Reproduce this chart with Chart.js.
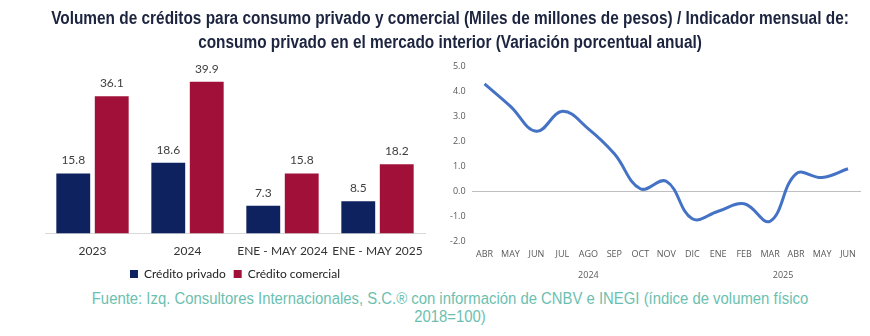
<!DOCTYPE html>
<html>
<head>
<meta charset="utf-8">
<script src="https://cdn.jsdelivr.net/npm/chart.js@4.4.1/dist/chart.umd.min.js"></script>
<style>
  body{margin:0;background:#fff;width:870px;height:336px;position:relative;overflow:hidden}
  .txt{position:absolute;left:-100px;width:1100px;text-align:center;white-space:nowrap;font-family:"Liberation Sans",Arial,sans-serif;transform-origin:550px 0}
  #title{top:6px;font-weight:bold;font-size:18px;line-height:24px;color:#1c2440;transform:scaleX(0.855)}
  #source{top:290px;font-size:16px;line-height:18px;color:#6cbfb0;transform:scaleX(0.93)}
  #bars{position:absolute;left:0;top:47px}
  #line{position:absolute;left:430px;top:55px}
</style>
</head>
<body>
<canvas id="bars" width="440" height="235"></canvas>
<canvas id="line" width="440" height="235"></canvas>
<div id="title" class="txt">Volumen de créditos para consumo privado y comercial (Miles de millones de pesos) / Indicador mensual de:<br>consumo privado en el mercado interior (Variación porcentual anual)</div>
<div id="source" class="txt">Fuente: Izq. Consultores Internacionales, S.C.® con información de CNBV e INEGI (índice de volumen físico<br>2018=100)</div>
<script>
// left chart
const periods = ['2023', '2024', 'ENE - MAY 2024', 'ENE - MAY 2025'];
const creditoPrivado = [15.8, 18.6, 7.3, 8.5];
const creditoComercial = [36.1, 39.9, 15.8, 18.2];

// right chart
const months = ['ABR','MAY','JUN','JUL','AGO','SEP','OCT','NOV','DIC','ENE','FEB','MAR','ABR','MAY','JUN'];
const consumo = [4.3, 3.4, 2.4, 3.2, 2.5, 1.5, 0.1, 0.4, -1.1, -0.8, -0.5, -1.2, 0.7, 0.55, 0.9];
const years = ['2024', '2025'];
const yearFirst = [0, 9];
const yearLast = [8, 14];

const valueLabels = {
  id: 'valueLabels',
  afterDatasetsDraw(chart){
    const ctx = chart.ctx;
    ctx.save();
    ctx.font = '12px Lato, "Open Sans", sans-serif';
    ctx.fillStyle = '#404040';
    ctx.textAlign = 'center';
    ctx.textBaseline = 'bottom';
    chart.data.datasets.forEach((ds, i) => {
      chart.getDatasetMeta(i).data.forEach((bar, j) => {
        ctx.fillText(ds.data[j].toFixed(1), bar.x, bar.y - 7);
      });
    });
    ctx.restore();
  }
};

new Chart(document.getElementById('bars').getContext('2d'), {
  type: 'bar',
  data: {
    labels: periods,
    datasets: [{
      label: 'Crédito privado',
      data: creditoPrivado,
      backgroundColor: '#0e2260'
    },{
      label: 'Crédito comercial',
      data: creditoComercial,
      backgroundColor: '#a01038'
    }]
  },
  options: {
    responsive: false,
    animation: false,
    categoryPercentage: 0.81,
    barPercentage: 0.88,
    layout: {padding: {left: 45, right: 15, top: 23, bottom: -8}},
    scales: {
      y: {display: false, min: 0, max: 43},
      x: {
        grid: {display: false},
        border: {color: '#d9d9d9'},
        ticks: {color: '#333', font: {size: 12, family: 'Lato, "Open Sans", sans-serif'}, padding: 2, maxRotation: 0, autoSkip: false}
      }
    },
    plugins: {
      legend: {
        position: 'bottom',
        labels: {boxWidth: 8, boxHeight: 8, padding: 8, color: '#222', font: {size: 12, family: 'Lato, "Open Sans", sans-serif'}}
      },
      tooltip: {enabled: false}
    }
  },
  plugins: [valueLabels]
});

const yearAxis = {
  id: 'yearAxis',
  afterDraw(chart){
    const ctx = chart.ctx;
    const xs = chart.scales.x;
    ctx.save();
    ctx.font = '9px "Open Sans", sans-serif';
    ctx.fillStyle = '#595959';
    ctx.textAlign = 'center';
    ctx.textBaseline = 'middle';
    years.forEach((y, i) => {
      const x = (xs.getPixelForValue(yearFirst[i]) + xs.getPixelForValue(yearLast[i])) / 2;
      ctx.fillText(y, x, chart.chartArea.bottom + 34);
    });
    ctx.restore();
  }
};

new Chart(document.getElementById('line').getContext('2d'), {
  type: 'line',
  data: {
    labels: months,
    datasets: [{
      data: consumo,
      borderColor: '#4472c4',
      borderWidth: 3,
      pointRadius: 0,
      tension: 0.4,
      fill: false
    }]
  },
  options: {
    responsive: false,
    animation: false,
    layout: {padding: {left: 14, right: 9, top: 11, bottom: 30}},
    scales: {
      y: {
        min: -2, max: 5,
        afterBuildTicks: axis => { axis.ticks = [-2, -1, 0, 1, 2, 3, 4, 5].map(v => ({value: v})); },
        ticks: {color: '#595959', font: {size: 9, family: '"Open Sans", sans-serif'}, callback: v => v.toFixed(1), padding: 6},
        grid: {
          drawTicks: false,
          color: ctx => ctx.tick.value === 0 ? '#bfbfbf' : 'transparent'
        },
        border: {display: false}
      },
      x: {
        offset: true,
        grid: {display: false},
        border: {display: false},
        ticks: {color: '#595959', font: {size: 9, family: '"Open Sans", sans-serif'}, maxRotation: 0, autoSkip: false, padding: 0}
      }
    },
    plugins: {legend: {display: false}, tooltip: {enabled: false}}
  },
  plugins: [yearAxis]
});
</script>
</body>
</html>
